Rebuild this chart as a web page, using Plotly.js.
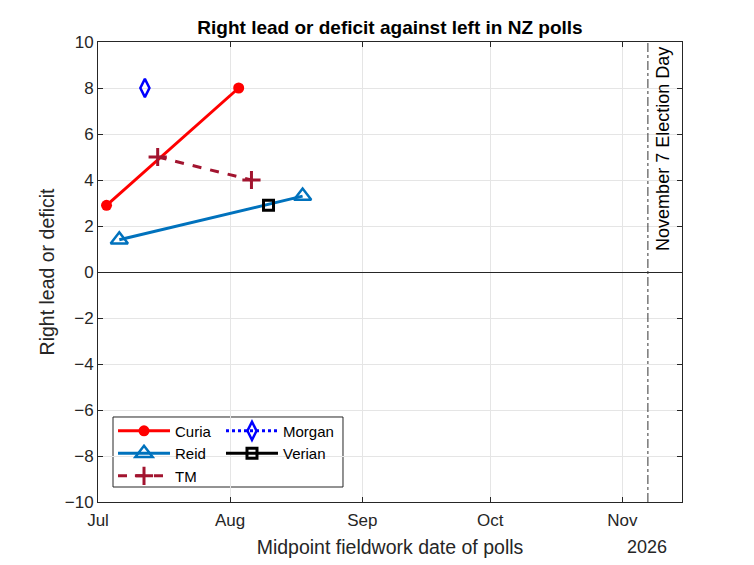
<!DOCTYPE html>
<html>
<head>
<meta charset="utf-8">
<script src="https://cdn.plot.ly/plotly-3.0.1.min.js"></script>
<style>
  html, body { margin: 0; padding: 0; background: #fff; }
  #myDiv { width: 754px; height: 565px; }
</style>
</head>
<body>
<div id="myDiv"></div>
<script>
// poll midpoints and right-minus-left lead
var curiaDates = ['2026-07-03', '2026-08-03'];
var curiaLead = [2.9, 8];
var reidDates = ['2026-07-06', '2026-08-18'];
var reidLead = [1.4, 3.3];
var tmDates = ['2026-07-15', '2026-08-06'];
var tmLead = [5, 4];
var morganDates = ['2026-07-12'];
var morganLead = [8];
var verianDates = ['2026-08-10'];
var verianLead = [2.9];

var electionDay = '2026-11-07';
var monthTicks = ['2026-07-01', '2026-08-01', '2026-09-01', '2026-10-01', '2026-11-01'];
var monthLabels = ['Jul', 'Aug', 'Sep', 'Oct', 'Nov'];
var yTicks = [-10, -8, -6, -4, -2, 0, 2, 4, 6, 8, 10];

var axCol = '#262626';
var font = 'Arial, "Liberation Sans", sans-serif';

var curia = {
  name: 'Curia', x: curiaDates, y: curiaLead, type: 'scatter', mode: 'lines+markers',
  line: {color: '#FF0000', width: 3},
  marker: {symbol: 'circle', size: 11, color: '#FF0000'},
  legend: 'legend'
};
var reid = {
  name: 'Reid', x: reidDates, y: reidLead, type: 'scatter', mode: 'lines+markers',
  line: {color: '#0072BD', width: 3},
  marker: {symbol: 'triangle-up-open', size: 15, color: '#0072BD', line: {width: 2.5}},
  legend: 'legend'
};
var tm = {
  name: 'TM', x: tmDates, y: tmLead, type: 'scatter', mode: 'lines+markers',
  line: {color: '#A2142F', width: 3, dash: 'dash'},
  marker: {symbol: 'cross-thin-open', size: 13, color: '#A2142F', line: {width: 3, color: '#A2142F'}},
  legend: 'legend'
};
var morgan = {
  name: 'Morgan', x: morganDates, y: morganLead, type: 'scatter', mode: 'lines+markers',
  line: {color: '#0000FF', width: 3, dash: 'dot'},
  marker: {symbol: 'diamond-tall-open', size: 13, color: '#0000FF', line: {width: 2.5}},
  legend: 'legend2'
};
var verian = {
  name: 'Verian', x: verianDates, y: verianLead, type: 'scatter', mode: 'lines+markers',
  line: {color: '#000000', width: 3},
  marker: {symbol: 'square-open', size: 10, color: '#000000', line: {width: 3}},
  legend: 'legend2'
};

var data = [curia, reid, tm, morgan, verian];

var layout = {
  width: 754, height: 565,
  margin: {l: 98, r: 72, t: 42, b: 63},
  paper_bgcolor: '#fff', plot_bgcolor: '#fff',
  font: {family: font, color: axCol, size: 17},
  showlegend: true,
  title: {
    text: '<b>Right lead or deficit against left in NZ polls</b>',
    font: {size: 19, color: '#000'},
    xref: 'paper', x: 0.5, y: 0.952, yanchor: 'middle'
  },
  xaxis: {
    type: 'date',
    range: ['2026-07-01', '2026-11-15'],
    tickvals: monthTicks, ticktext: monthLabels,
    ticks: 'inside', ticklen: 5, tickcolor: axCol, ticklabelstandoff: 3,
    showgrid: true, gridcolor: '#e5e5e5',
    showline: true, linecolor: axCol, linewidth: 1, mirror: 'ticks',
    zeroline: false,
    tickfont: {size: 17, color: axCol},
    title: {text: 'Midpoint fieldwork date of polls', font: {size: 19.5, color: axCol}, standoff: 10}
  },
  yaxis: {
    range: [-10, 10],
    tickvals: yTicks,
    ticks: 'inside', ticklen: 5, tickcolor: axCol,
    showgrid: true, gridcolor: '#e5e5e5',
    showline: true, linecolor: axCol, linewidth: 1, mirror: 'ticks',
    zeroline: true, zerolinecolor: axCol, zerolinewidth: 1,
    tickfont: {size: 17, color: axCol},
    title: {text: 'Right lead or deficit', font: {size: 19.5, color: axCol}, standoff: 4}
  },
  legend: {
    x: 0.0257, xanchor: 'left', y: 0.19, yanchor: 'top',
    bgcolor: 'rgba(0,0,0,0)', borderwidth: 0,
    font: {size: 15, color: '#000'}, tracegroupgap: 0, itemwidth: 52
  },
  legend2: {
    x: 0.2106, xanchor: 'left', y: 0.19, yanchor: 'top',
    bgcolor: 'rgba(0,0,0,0)', borderwidth: 0,
    font: {size: 15, color: '#000'}, tracegroupgap: 0, itemwidth: 52
  },
  shapes: [
    {type: 'rect', xref: 'paper', yref: 'paper', layer: 'between',
     x0: 0.0257, x1: 0.4195, y0: 0.0326, y1: 0.1848,
     fillcolor: '#fff', line: {color: axCol, width: 1}},
    {type: 'line', xref: 'x', yref: 'paper', x0: electionDay, x1: electionDay, y0: 0, y1: 1,
     line: {color: '#333', width: 1, dash: 'dashdot'}}
  ],
  annotations: [
    {text: 'November 7 Election Day', xref: 'x', yref: 'y', x: electionDay, y: 10,
     xanchor: 'left', yanchor: 'top', xshift: 3, yshift: -3, textangle: -90,
     showarrow: false, font: {size: 18, color: '#000'}},
    {text: '2026', xref: 'paper', yref: 'paper', x: 0.94, y: 0, xanchor: 'center',
     yanchor: 'middle', yshift: -45, showarrow: false, font: {size: 18, color: axCol}}
  ]
};

Plotly.newPlot('myDiv', data, layout, {displayModeBar: false, staticPlot: true});
</script>
</body>
</html>
